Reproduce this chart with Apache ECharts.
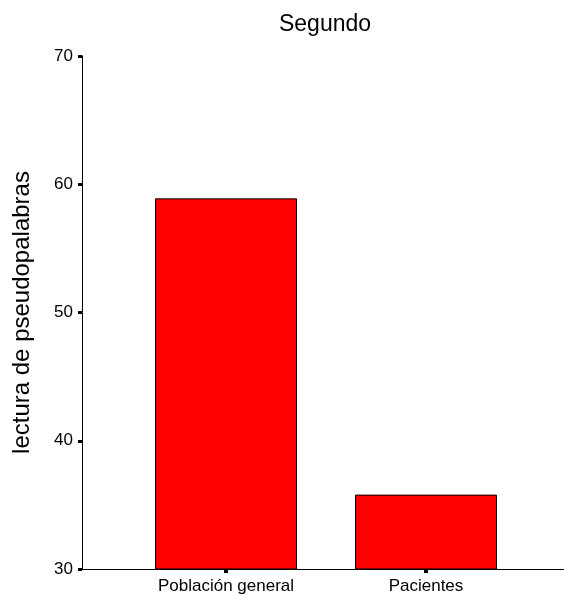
<!DOCTYPE html>
<html><head><meta charset="utf-8">
<script src="https://cdn.jsdelivr.net/npm/echarts@6/dist/echarts.min.js"></script>
<style>html,body{margin:0;padding:0;background:#fff}#c{width:564px;height:603px}</style>
</head><body><div id="c"></div>
<script>
const titleText = "Segundo";
const yAxisName = "lectura de pseudopalabras";
const categories = ["Población general", "Pacientes"];
const values = [58.9, 35.8];
const yMin = 30, yMax = 70, yInterval = 10;

const font = "Arial, 'Liberation Sans', sans-serif";
const chart = echarts.init(document.getElementById('c'), null, {renderer: 'canvas'});
chart.setOption({
  animation: false,
  backgroundColor: '#fff',
  title: {
    text: titleText, left: 320, top: 8, textAlign: 'center',
    textStyle: {fontFamily: font, fontSize: 23, fontWeight: 'normal', color: '#000'}
  },
  grid: [
    {left: 126, width: 400, top: 56, bottom: 34, outerBoundsMode: 'none', containLabel: false},
    {left: 82, right: 0, top: 56, bottom: 34, outerBoundsMode: 'none', containLabel: false}
  ],
  xAxis: [
    {
      gridIndex: 0, type: 'category', data: categories,
      axisLine: {show: false},
      axisTick: {show: true, alignWithLabel: true, length: 4, lineStyle: {color: '#000', width: 4}},
      axisLabel: {color: '#000', fontFamily: font, fontSize: 17, margin: 9}
    },
    {
      gridIndex: 1, type: 'category', data: [],
      axisLine: {show: true, lineStyle: {color: '#000', width: 1}},
      axisTick: {show: false}, axisLabel: {show: false}
    }
  ],
  yAxis: [
    {
      gridIndex: 0, type: 'value', min: yMin, max: yMax, interval: yInterval,
      show: false
    },
    {
      gridIndex: 1, type: 'value', min: yMin, max: yMax, interval: yInterval,
      name: yAxisName, nameLocation: 'middle', nameGap: 48,
      nameTextStyle: {fontFamily: font, fontSize: 24, color: '#000'},
      axisLine: {show: true, lineStyle: {color: '#000', width: 1}},
      axisTick: {show: true, length: 4, lineStyle: {color: '#000', width: 3}},
      axisLabel: {color: '#000', fontFamily: font, fontSize: 17, margin: 9},
      splitLine: {show: false}
    }
  ],
  series: [{
    type: 'bar', xAxisIndex: 0, yAxisIndex: 0,
    data: values, barWidth: 142,
    itemStyle: {color: '#ff0000', borderColor: '#000', borderWidth: 1}
  }]
});
</script></body></html>
